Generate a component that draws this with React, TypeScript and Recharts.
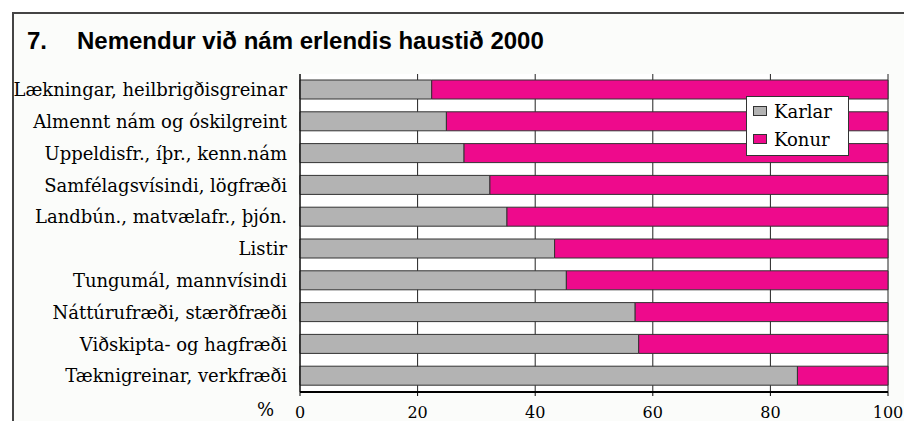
import React from 'react';
import { BarChart, Bar, XAxis, YAxis, CartesianGrid, Legend } from 'recharts';

const categories = [
  'Lækningar, heilbrigðisgreinar',
  'Almennt nám og óskilgreint',
  'Uppeldisfr., íþr., kenn.nám',
  'Samfélagsvísindi, lögfræði',
  'Landbún., matvælafr., þjón.',
  'Listir',
  'Tungumál, mannvísindi',
  'Náttúrufræði, stærðfræði',
  'Viðskipta- og hagfræði',
  'Tæknigreinar, verkfræði',
];
const karlar = [22.4, 24.9, 27.9, 32.3, 35.2, 43.3, 45.3, 57.0, 57.6, 84.6];
const konur = [77.6, 75.1, 72.1, 67.7, 64.8, 56.7, 54.7, 43.0, 42.4, 15.4];
const xTicks = [0, 20, 40, 60, 80, 100];
const boundaryTicks = [0, 1, 2, 3, 4, 5, 6, 7, 8, 9, 10];

const data = categories.map((name, i) => ({ name, Karlar: karlar[i], Konur: konur[i] }));

const SERIF = 'DejaVu Serif';

const LegendBox = (props: any) => {
  const { payload } = props;
  return (
    <div
      style={{
        width: 103,
        height: 60,
        background: '#fff',
        border: '1px solid #333',
        fontFamily: SERIF,
        fontSize: 18,
        color: '#000',
        boxSizing: 'border-box',
        paddingTop: 0,
      }}
    >
      {(payload || []).map((p: any) => (
        <div key={p.value} style={{ display: 'flex', alignItems: 'center', height: 28, paddingLeft: 6 }}>
          <svg width={15} height={10} style={{ marginRight: 6 }}>
            <rect x={0.5} y={0.5} width={13} height={9} fill={p.color} stroke="#333" strokeWidth={1} />
          </svg>
          <span>{p.value}</span>
        </div>
      ))}
    </div>
  );
};

export default function App() {
  return (
    <div
      style={{
        position: 'absolute',
        left: 0,
        top: 0,
        width: 904,
        height: 421,
        overflow: 'hidden',
        background: '#fff',
      }}
    >
      <div
        style={{
          position: 'absolute',
          left: 12,
          top: 12,
          width: 920,
          height: 440,
          border: '2px solid #444',
          background: '#fbfcfa',
        }}
      />
      <div
        style={{
          position: 'absolute',
          left: 27,
          top: 27,
          fontFamily: 'Liberation Sans',
          fontWeight: 'bold',
          fontSize: 24,
          color: '#000',
          whiteSpace: 'pre',
        }}
      >
        {'7.'}
        <span style={{ position: 'absolute', left: 50 }}>Nemendur við nám erlendis haustið 2000</span>
      </div>
      <div
        style={{
          position: 'absolute',
          left: 257,
          top: 399,
          fontFamily: SERIF,
          fontSize: 18,
          color: '#000',
        }}
      >
        %
      </div>
      <div style={{ position: 'absolute', left: 0, top: 0 }}>
        <BarChart
          width={904}
          height={421}
          data={data}
          layout="vertical"
          margin={{ top: 74, right: 16, bottom: 0, left: 0 }}
          barSize={19}
        >
          <CartesianGrid horizontal={false} vertical={true} stroke="#222" strokeWidth={1} fill="#fff" />
          <XAxis
            type="number"
            domain={[0, 100]}
            ticks={xTicks}
            interval={0}
            axisLine={{ stroke: '#000', strokeWidth: 2 }}
            tickLine={{ stroke: '#000' }}
            tickSize={4}
            tickMargin={11}
            tick={{ fontFamily: SERIF, fontSize: 16, fill: '#000' }}
            height={29}
          />
          <XAxis
            xAxisId="top"
            orientation="top"
            type="number"
            domain={[0, 100]}
            ticks={xTicks}
            height={0}
            tick={false}
            tickLine={false}
            axisLine={{ stroke: '#000', strokeWidth: 1 }}
          />
          <YAxis
            type="category"
            dataKey="name"
            width={300}
            axisLine={{ stroke: '#000', strokeWidth: 1 }}
            tickLine={false}
            tickMargin={7}
            interval={0}
            tick={{ fontFamily: SERIF, fontSize: 18, fill: '#000' }}
          />
          <YAxis
            yAxisId="bounds"
            type="number"
            domain={[0, 10]}
            ticks={boundaryTicks}
            interval={0}
            width={0}
            tick={false}
            tickSize={5}
            tickLine={{ stroke: '#000' }}
            axisLine={false}
          />
          <Legend
            layout="vertical"
            align="center"
            verticalAlign="middle"
            content={<LegendBox />}
            wrapperStyle={{ position: 'absolute', left: 746, top: 96, width: 103, height: 60 }}
          />
          <Bar dataKey="Karlar" stackId="a" fill="#b3b3b3" stroke="#333" strokeWidth={1} isAnimationActive={false} />
          <Bar dataKey="Konur" stackId="a" fill="#ee0a8c" stroke="#333" strokeWidth={1} isAnimationActive={false} />
        </BarChart>
      </div>
    </div>
  );
}
